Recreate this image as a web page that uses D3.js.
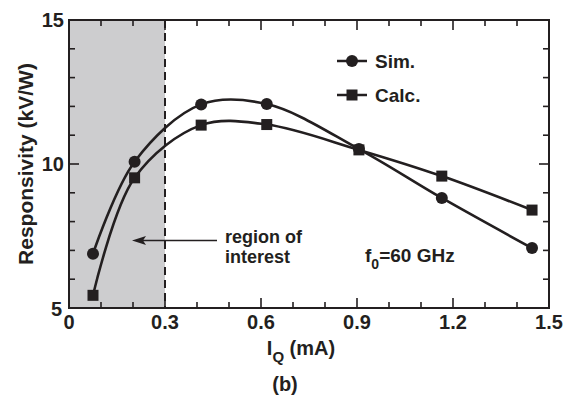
<!DOCTYPE html>
<html>
<head>
<meta charset="utf-8">
<script src="https://cdn.jsdelivr.net/npm/d3@7"></script>
<style>
  body { margin: 0; background: #fff; }
  text { font-family: "Liberation Sans", Arial, sans-serif; font-weight: bold; fill: #231f20; }
</style>
</head>
<body>
<svg id="chart" width="564" height="399"></svg>
<script>
// bias current (mA)
const current = [0.075, 0.205, 0.413, 0.618, 0.906, 1.165, 1.447];
// responsivity (kV/W)
const sim = [6.88, 10.08, 12.07, 12.08, 10.52, 8.82, 7.08];
const calc = [5.44, 9.52, 11.35, 11.37, 10.49, 9.58, 8.40];
const xTicks = [0, 0.3, 0.6, 0.9, 1.2, 1.5];
const yTicks = [5, 10, 15];
const region = [0, 0.3];

const ink = "#231f20";
const margin = {left: 69, right: 15, top: 20, bottom: 91};
const width = 564, height = 399;

const svg = d3.select("#chart");

const x = d3.scaleLinear().domain([0, 1.5]).range([margin.left, width - margin.right]);
const y = d3.scaleLinear().domain([5, 15]).range([height - margin.bottom, margin.top]);

// shaded region
svg.append("rect")
  .attr("x", x(region[0]))
  .attr("y", y(15))
  .attr("width", x(region[1]) - x(region[0]))
  .attr("height", y(5) - y(15))
  .attr("fill", "#cdcdcf");

svg.append("line")
  .attr("x1", x(region[1])).attr("x2", x(region[1]))
  .attr("y1", y(15)).attr("y2", y(5))
  .attr("stroke", ink)
  .attr("stroke-width", 2)
  .attr("stroke-dasharray", "8,5");

// ticks (inward on all four sides)
const minorX = d3.range(0, 1.51, 0.1);
const minorY = d3.range(5, 15.01, 1);
const isMajorX = v => Math.abs(v / 0.3 - Math.round(v / 0.3)) < 1e-6;
const isMajorY = v => Math.abs(v / 5 - Math.round(v / 5)) < 1e-6;

const ticks = svg.append("g").attr("stroke", ink).attr("stroke-width", 1.6);
minorX.forEach(v => {
  const len = isMajorX(v) ? 10 : 6;
  ticks.append("line").attr("x1", x(v)).attr("x2", x(v)).attr("y1", y(5)).attr("y2", y(5) - len);
  ticks.append("line").attr("x1", x(v)).attr("x2", x(v)).attr("y1", y(15)).attr("y2", y(15) + len);
});
minorY.forEach(v => {
  const len = isMajorY(v) ? 10 : 6;
  ticks.append("line").attr("x1", x(0)).attr("x2", x(0) + len).attr("y1", y(v)).attr("y2", y(v));
  ticks.append("line").attr("x1", x(1.5)).attr("x2", x(1.5) - len).attr("y1", y(v)).attr("y2", y(v));
});

// frame
svg.append("rect")
  .attr("x", x(0)).attr("y", y(15))
  .attr("width", x(1.5) - x(0)).attr("height", y(5) - y(15))
  .attr("fill", "none").attr("stroke", ink).attr("stroke-width", 2);

// tick labels
svg.append("g").selectAll("text")
  .data(xTicks).enter().append("text")
  .attr("x", d => x(d))
  .attr("y", y(5) + 21)
  .attr("text-anchor", "middle")
  .style("font-size", "20px")
  .text(d => d === 0 ? "0" : d.toFixed(1));

svg.append("g").selectAll("text")
  .data(yTicks).enter().append("text")
  .attr("x", d => d === 5 ? x(0) - 7 : x(0) - 5)
  .attr("y", d => d === 5 ? y(d) + 8 : y(d) + 7)
  .attr("text-anchor", "end")
  .style("font-size", "20px")
  .text(d => d);

// axis titles
svg.append("text")
  .attr("transform", `translate(33,164) rotate(-90)`)
  .attr("text-anchor", "middle")
  .style("font-size", "21px")
  .text("Responsivity (kV/W)");

const xt = svg.append("text")
  .attr("x", 301)
  .attr("y", 355)
  .attr("text-anchor", "middle")
  .style("font-size", "20px");
xt.append("tspan").text("I");
xt.append("tspan").attr("dy", 7).style("font-size", "15px").text("Q");
xt.append("tspan").attr("dy", -7).text(" (mA)");

svg.append("text")
  .attr("x", 285)
  .attr("y", 391)
  .attr("text-anchor", "middle")
  .style("font-size", "20px")
  .text("(b)");

// curves
const line = d3.line()
  .x(d => x(d[0]))
  .y(d => y(d[1]))
  .curve(d3.curveCatmullRom.alpha(0.5));

const series = [
  {name: "Sim.", values: sim, shape: "circle"},
  {name: "Calc.", values: calc, shape: "square"}
];

series.forEach(s => {
  const pts = current.map((c, i) => [c, s.values[i]]);
  svg.append("path")
    .datum(pts)
    .attr("d", line)
    .attr("fill", "none")
    .attr("stroke", ink)
    .attr("stroke-width", 2.6);
  drawMarkers(svg, pts.map(p => [x(p[0]), y(p[1])]), s.shape);
});

function drawMarkers(g, pts, shape) {
  if (shape === "circle") {
    g.selectAll(null).data(pts).enter().append("circle")
      .attr("cx", d => d[0]).attr("cy", d => d[1]).attr("r", 6)
      .attr("fill", ink);
  } else {
    g.selectAll(null).data(pts).enter().append("rect")
      .attr("x", d => d[0] - 5.5).attr("y", d => d[1] - 5.5)
      .attr("width", 11).attr("height", 11)
      .attr("fill", ink);
  }
}

// legend
const legendY = [61, 95];
series.forEach((s, i) => {
  svg.append("line")
    .attr("x1", 337).attr("x2", 367)
    .attr("y1", legendY[i]).attr("y2", legendY[i])
    .attr("stroke", ink).attr("stroke-width", 2.5);
  drawMarkers(svg, [[352, legendY[i]]], s.shape);
  svg.append("text")
    .attr("x", 375).attr("y", legendY[i] + 7)
    .style("font-size", "19px")
    .text(s.name);
});

// annotations
svg.append("line")
  .attr("x1", 217).attr("x2", 140)
  .attr("y1", 240.5).attr("y2", 240.5)
  .attr("stroke", ink).attr("stroke-width", 1.6);
svg.append("path")
  .attr("d", "M132,240.5 L146,236 L143,240.5 L146,245 Z")
  .attr("fill", ink);

svg.append("text").attr("x", 225).attr("y", 243).style("font-size", "18px").text("region of");
svg.append("text").attr("x", 225).attr("y", 263).style("font-size", "18px").text("interest");

const ft = svg.append("text").attr("x", 365).attr("y", 262).style("font-size", "19px");
ft.append("tspan").text("f");
ft.append("tspan").attr("dy", 7).style("font-size", "14px").text("0");
ft.append("tspan").attr("dy", -7).text("=60 GHz");
</script>
</body>
</html>
